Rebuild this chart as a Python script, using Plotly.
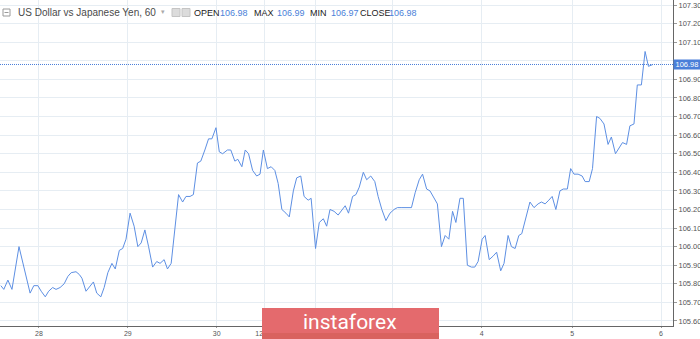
import plotly.graph_objects as go

# ---- data (hours from 28th 00:00, USD/JPY hourly close) ----
hours = [-10.3, -9.5, -8.4, -7.3, -5.4, -2.4, -1.4, -0.3, 0.6, 1.7,
         2.6, 3.7, 4.6, 5.7, 6.8, 7.8, 8.7, 10.0, 10.9, 11.6,
         12.7, 13.8, 14.7, 15.6, 16.7, 17.6, 18.6, 19.7, 20.6, 21.7,
         22.6, 23.5, 24.6, 25.7, 26.7, 27.6, 28.6, 29.6, 30.7, 31.8,
         32.7, 33.8, 34.7, 35.7, 36.8, 37.7, 38.8, 39.7, 40.8, 41.7,
         42.8, 43.7, 44.8, 45.8, 46.7, 47.8, 48.7, 49.6, 50.9, 51.8,
         52.9, 53.7, 54.8, 55.7, 56.6, 57.7, 58.8, 59.7, 60.6, 61.7,
         62.7, 63.7, 64.6, 65.6, 66.7, 67.6, 68.7, 69.6, 70.7, 71.6,
         72.7, 73.5, 74.7, 75.7, 76.8, 77.7, 78.6, 79.7, 80.8, 81.8,
         82.7, 83.6, 84.7, 85.6, 86.5, 87.6, 88.5, 89.6, 90.7, 91.6,
         92.6, 93.7, 94.8, 95.9, 96.8, 97.8, 98.7, 99.7, 100.6, 101.6,
         102.7, 103.6, 104.7, 105.6, 106.7, 107.6, 108.7, 109.7, 110.7, 111.7,
         112.6, 113.7, 114.6, 115.7, 116.8, 117.7, 118.6, 119.7, 120.5, 121.6,
         122.7, 123.6, 124.7, 125.6, 126.7, 127.6, 128.6, 129.6, 130.4, 131.7,
         132.6, 133.7, 134.8, 135.7, 136.7, 137.7, 138.6, 139.6, 140.7, 141.6,
         142.7, 143.6, 144.5, 145.6, 146.7, 147.5, 148.6, 149.5, 150.6, 151.5,
         152.6, 153.7, 154.6, 155.7, 156.7, 157.6, 158.7, 159.6, 160.7, 161.6,
         162.7, 163.7, 164.6, 165.8]

prices = [105.79, 105.77, 105.82, 105.77, 106.00, 105.75, 105.79, 105.79, 105.76, 105.73,
          105.76, 105.78, 105.77, 105.78, 105.80, 105.84, 105.86, 105.865, 105.85, 105.83,
          105.76, 105.79, 105.81, 105.75, 105.73, 105.78, 105.86, 105.91, 105.88, 105.98,
          105.99, 106.04, 106.18, 106.11, 106.00, 106.02, 106.09, 106.00, 105.89, 105.92,
          105.91, 105.93, 105.88, 105.91, 106.11, 106.28, 106.24, 106.27, 106.27, 106.28,
          106.45, 106.46, 106.52, 106.58, 106.58, 106.64, 106.51, 106.50, 106.52, 106.52,
          106.46, 106.47, 106.43, 106.52, 106.50, 106.41, 106.38, 106.39, 106.52, 106.42,
          106.43, 106.41, 106.34, 106.20, 106.18, 106.16, 106.30, 106.37, 106.38, 106.27,
          106.25, 106.26, 105.99, 106.13, 106.15, 106.11, 106.20, 106.19, 106.17, 106.20,
          106.22, 106.18, 106.27, 106.28, 106.32, 106.40, 106.36, 106.38, 106.35, 106.27,
          106.20, 106.14, 106.18, 106.20, 106.21, 106.21, 106.21, 106.21, 106.21, 106.29,
          106.36, 106.39, 106.31, 106.30, 106.26, 106.23, 106.00, 106.06, 106.04, 106.19,
          106.13, 106.26, 106.26, 105.90, 105.89, 105.89, 105.92, 106.04, 106.06, 105.93,
          105.95, 105.97, 105.87, 105.91, 106.06, 106.00, 105.99, 106.06, 106.07, 106.18,
          106.24, 106.21, 106.23, 106.24, 106.23, 106.25, 106.27, 106.20, 106.30, 106.31,
          106.31, 106.42, 106.39, 106.39, 106.38, 106.35, 106.35, 106.42, 106.70, 106.69,
          106.66, 106.55, 106.59, 106.50, 106.53, 106.56, 106.55, 106.65, 106.66, 106.87,
          106.87, 107.05, 106.97, 106.98]

# day ticks; the ones under the watermark are not visible in the reference
tick_hours = [0, 24, 48, 60.8, 74.8, 95.6, 119.6, 144, 168]
tick_labels = ["28", "29", "30", "12:00", "", "", "4", "5", "6"]

y_ticks = [105.60, 105.70, 105.80, 105.90, 106.00, 106.10, 106.20, 106.30, 106.40,
           106.50, 106.60, 106.70, 106.80, 106.90, 107.00, 107.10, 107.20, 107.30]
# 107.00 is covered by the last-price badge in the reference
y_labels = ["105.60", "105.70", "105.80", "105.90", "106.00", "106.10", "106.20",
            "106.30", "106.40", "106.50", "106.60", "106.70", "106.80", "106.90",
            "", "107.10", "107.20", "107.30"]

title = "US Dollar vs Japanese Yen, 60"
ohlc_names = ["OPEN", "MAX", "MIN", "CLOSE"]
ohlc_values = ["106.98", "106.99", "106.97", "106.98"]
last_price = 106.98

# ---- layout helpers (pixel -> paper) ----
W, H = 700, 339
ML, MR, MT, MB = 0, 27, 0, 13
PW, PH = W - ML - MR, H - MT - MB
def px(x):
    return (x - ML) / PW
def py(y):
    return 1 - (y - MT) / PH

LINE = "#5d8fe3"
BLUE = "#4a7fd9"
GRID = "#e6edf3"
FONT = "Liberation Sans"

fig = go.Figure()
fig.add_trace(go.Scatter(x=hours, y=prices, mode="lines",
                         line=dict(color=LINE, width=1), hoverinfo="skip",
                         showlegend=False))

fig.update_layout(
    width=W, height=H,
    margin=dict(l=ML, r=MR, t=MT, b=MB),
    paper_bgcolor="white", plot_bgcolor="white",
    font=dict(family=FONT, color="#555"),
    xaxis=dict(range=[-10.53, 171.24], tickvals=tick_hours, ticktext=tick_labels,
               showgrid=True, gridcolor=GRID, gridwidth=1, zeroline=False,
               showline=True, linecolor="#666", linewidth=1,
               ticks="outside", ticklen=1, tickcolor="#999",
               tickfont=dict(size=7, color="#555", family=FONT), automargin=False),
    yaxis=dict(range=[105.573, 107.327], side="right", tickvals=y_ticks,
               ticktext=y_labels, showgrid=True, gridcolor=GRID, gridwidth=1,
               zeroline=False, showline=True, linecolor="#666", linewidth=1,
               ticks="outside", ticklen=3, tickcolor="#999",
               tickfont=dict(size=7.5, color="#555", family=FONT), automargin=False),
)

shapes = []
# current price dotted line
shapes.append(dict(type="line", xref="paper", x0=0, x1=1, yref="y",
                   y0=last_price, y1=last_price,
                   line=dict(color=BLUE, width=1, dash="1px,1px")))
# collapse icon
shapes.append(dict(type="rect", xref="paper", yref="paper",
                   x0=px(3), x1=px(10), y0=py(16), y1=py(9),
                   line=dict(color="#9a9a9a", width=1), fillcolor="white"))
shapes.append(dict(type="line", xref="paper", yref="paper",
                   x0=px(4.5), x1=px(8.5), y0=py(12.5), y1=py(12.5),
                   line=dict(color="#9a9a9a", width=1)))
# two small gray icons
for x0 in (172, 182):
    shapes.append(dict(type="rect", xref="paper", yref="paper",
                       x0=px(x0), x1=px(x0 + 8), y0=py(16.5), y1=py(8.5),
                       line=dict(color="#c4c4c4", width=1), fillcolor="#dcdcdc"))
# watermark
shapes.append(dict(type="rect", xref="paper", yref="paper", layer="above",
                   x0=px(262), x1=px(439), y0=py(339), y1=py(308),
                   line=dict(width=0), fillcolor="#e46a6d"))
shapes.append(dict(type="rect", xref="paper", yref="paper", layer="above",
                   x0=px(262), x1=px(439), y0=py(339), y1=py(333),
                   line=dict(width=0), fillcolor="#d9625f"))
fig.update_layout(shapes=shapes)

ann = []
ann.append(dict(xref="paper", yref="paper", x=px(16), y=py(12.5), xanchor="left",
                yanchor="middle", text=title, showarrow=False,
                font=dict(size=10, color="#4a4a4a", family=FONT)))
ann.append(dict(xref="paper", yref="paper", x=px(159), y=py(12), xanchor="left",
                yanchor="middle", text="▾", showarrow=False,
                font=dict(size=7, color="#aaaaaa", family="DejaVu Sans")))
name_x = [192, 252, 308, 358]
val_x = [218, 275, 329, 387]
for n, v, nx, vx in zip(ohlc_names, ohlc_values, name_x, val_x):
    ann.append(dict(xref="paper", yref="paper", x=px(nx), y=py(12.5), xanchor="left",
                    yanchor="middle", text=n, showarrow=False,
                    font=dict(size=9, color="#222", family=FONT)))
    ann.append(dict(xref="paper", yref="paper", x=px(vx), y=py(12.5), xanchor="left",
                    yanchor="middle", text=v, showarrow=False,
                    font=dict(size=9, color=BLUE, family=FONT)))
# last price label on axis
ann.append(dict(xref="paper", yref="y", x=1, y=last_price, xanchor="left",
                yanchor="middle", text=f"{last_price:.2f}", showarrow=False,
                bgcolor=BLUE, width=26, height=9, borderpad=0,
                font=dict(size=7.5, color="white", family=FONT)))
# watermark text
ann.append(dict(xref="paper", yref="paper", x=px(350), y=py(322), xanchor="center",
                yanchor="middle", text="instaforex", showarrow=False,
                font=dict(size=21, color="white", family="Roboto")))
fig.update_layout(annotations=ann)

fig.write_html("out.html")
